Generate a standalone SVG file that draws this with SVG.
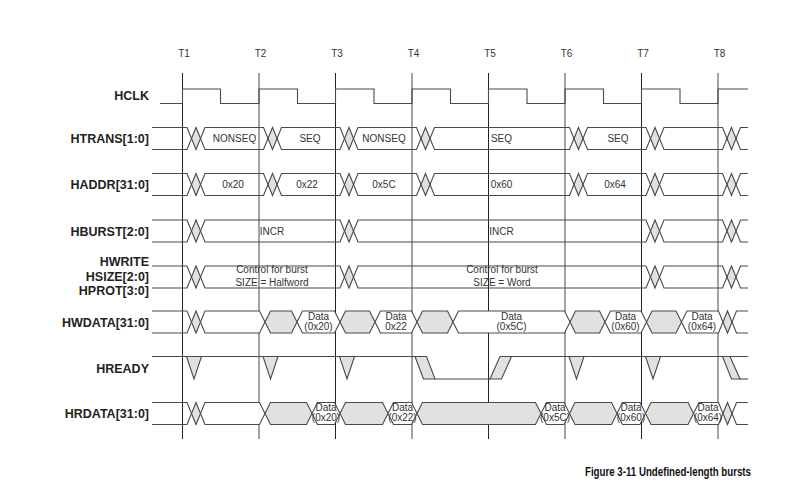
<svg xmlns="http://www.w3.org/2000/svg" xmlns:xlink="http://www.w3.org/1999/xlink" width="812" height="492" viewBox="0 0 812 492">
<style>
.ln{fill:none;stroke:#4a4a4a;stroke-width:1.1}
.w{fill:#fff;stroke:#4a4a4a;stroke-width:1.1}
.g{fill:#e1e1e1;stroke:#4a4a4a;stroke-width:1.1}
.gd{fill:#e1e1e1;stroke:none}
.edgeA{stroke:#222;stroke-width:1}
.edgeB{stroke:#8c8c8c;stroke-width:1.6}
.lbl{font-family:"Liberation Sans",Arial,sans-serif;font-weight:bold;font-size:12.5px;fill:#222;text-anchor:end}
.t{font-family:"Liberation Sans",Arial,sans-serif;font-size:10px;fill:#333;text-anchor:middle}
.cap{font-family:"Liberation Sans",Arial,sans-serif;font-weight:bold;font-size:12px;fill:#111;text-anchor:end}
</style>
<defs>
<polygon id="dia" points="-4.5,0 0,-11 4.5,0 0,11"/>
</defs>
<rect width="812" height="492" fill="#fff"/>

<g id="clock-edges">
<line class="edgeA" x1="182.5" y1="73" x2="182.5" y2="439"/>
<line class="edgeB" x1="259" y1="73" x2="259" y2="439"/>
<line class="edgeA" x1="335.5" y1="73" x2="335.5" y2="439"/>
<line class="edgeB" x1="412" y1="73" x2="412" y2="439"/>
<line class="edgeA" x1="488.5" y1="73" x2="488.5" y2="439"/>
<line class="edgeB" x1="565" y1="73" x2="565" y2="439"/>
<line class="edgeA" x1="641.5" y1="73" x2="641.5" y2="439"/>
<line class="edgeB" x1="718" y1="73" x2="718" y2="439"/>
<text class="t" x="184" y="57">T1</text>
<text class="t" x="260.5" y="57">T2</text>
<text class="t" x="337" y="57">T3</text>
<text class="t" x="413.5" y="57">T4</text>
<text class="t" x="490" y="57">T5</text>
<text class="t" x="566.5" y="57">T6</text>
<text class="t" x="643" y="57">T7</text>
<text class="t" x="719.5" y="57">T8</text>
</g>

<g id="hclk">
<text class="lbl" x="149" y="99.5">HCLK</text>
<path class="ln" d="M160,103.5 H182.5 V89 H220.5 V103.5 H259 V89 H297.5 V103.5 H335.5 V89 H374 V103.5 H412 V89 H450.5 V103.5 H488.5 V89 H527 V103.5 H565 V89 H603.5 V103.5 H641.5 V89 H680 V103.5 H718 V89 H748"/>
</g>

<g id="htrans">
<text class="lbl" x="149" y="143">HTRANS[1:0]</text>
<g class="gd">
<use xlink:href="#dia" href="#dia" x="196" y="138.5"/><use xlink:href="#dia" href="#dia" x="272.5" y="138.5"/><use xlink:href="#dia" href="#dia" x="349" y="138.5"/><use xlink:href="#dia" href="#dia" x="425.5" y="138.5"/><use xlink:href="#dia" href="#dia" x="578.5" y="138.5"/><use xlink:href="#dia" href="#dia" x="655" y="138.5"/><use xlink:href="#dia" href="#dia" x="731.5" y="138.5"/>
</g>
<path class="ln" d="M152,127.5 H187 L196,149.5 L205,127.5 H263.5 L272.5,149.5 L281.5,127.5 H340 L349,149.5 L358,127.5 H416.5 L425.5,149.5 L434.5,127.5 H569.5 L578.5,149.5 L587.5,127.5 H646 L655,149.5 L664,127.5 H722.5 L731.5,149.5 L740.5,127.5 H748"/>
<path class="ln" d="M152,149.5 H187 L196,127.5 L205,149.5 H263.5 L272.5,127.5 L281.5,149.5 H340 L349,127.5 L358,149.5 H416.5 L425.5,127.5 L434.5,149.5 H569.5 L578.5,127.5 L587.5,149.5 H646 L655,127.5 L664,149.5 H722.5 L731.5,127.5 L740.5,149.5 H748"/>
<text class="t" x="234.5" y="142">NONSEQ</text>
<text class="t" x="310" y="142">SEQ</text>
<text class="t" x="384" y="142">NONSEQ</text>
<text class="t" x="501.5" y="142">SEQ</text>
<text class="t" x="618" y="142">SEQ</text>
</g>

<g id="haddr">
<text class="lbl" x="149" y="189">HADDR[31:0]</text>
<g class="gd">
<use xlink:href="#dia" href="#dia" x="196" y="184.5"/><use xlink:href="#dia" href="#dia" x="272.5" y="184.5"/><use xlink:href="#dia" href="#dia" x="349" y="184.5"/><use xlink:href="#dia" href="#dia" x="425.5" y="184.5"/><use xlink:href="#dia" href="#dia" x="578.5" y="184.5"/><use xlink:href="#dia" href="#dia" x="655" y="184.5"/><use xlink:href="#dia" href="#dia" x="731.5" y="184.5"/>
</g>
<path class="ln" d="M152,173.5 H187 L196,195.5 L205,173.5 H263.5 L272.5,195.5 L281.5,173.5 H340 L349,195.5 L358,173.5 H416.5 L425.5,195.5 L434.5,173.5 H569.5 L578.5,195.5 L587.5,173.5 H646 L655,195.5 L664,173.5 H722.5 L731.5,195.5 L740.5,173.5 H748"/>
<path class="ln" d="M152,195.5 H187 L196,173.5 L205,195.5 H263.5 L272.5,173.5 L281.5,195.5 H340 L349,173.5 L358,195.5 H416.5 L425.5,173.5 L434.5,195.5 H569.5 L578.5,173.5 L587.5,195.5 H646 L655,173.5 L664,195.5 H722.5 L731.5,173.5 L740.5,195.5 H748"/>
<text class="t" x="233" y="188">0x20</text>
<text class="t" x="307" y="188">0x22</text>
<text class="t" x="384" y="188">0x5C</text>
<text class="t" x="501.5" y="188">0x60</text>
<text class="t" x="615" y="188">0x64</text>
</g>

<g id="hburst">
<text class="lbl" x="149" y="235.5">HBURST[2:0]</text>
<g class="gd">
<use xlink:href="#dia" href="#dia" x="196" y="231"/><use xlink:href="#dia" href="#dia" x="349" y="231"/><use xlink:href="#dia" href="#dia" x="655" y="231"/><use xlink:href="#dia" href="#dia" x="731.5" y="231"/>
</g>
<path class="ln" d="M152,220 H187 L196,242 L205,220 H340 L349,242 L358,220 H646 L655,242 L664,220 H722.5 L731.5,242 L740.5,220 H748"/>
<path class="ln" d="M152,242 H187 L196,220 L205,242 H340 L349,220 L358,242 H646 L655,220 L664,242 H722.5 L731.5,220 L740.5,242 H748"/>
<text class="t" x="272" y="234.5">INCR</text>
<text class="t" x="501.5" y="234.5">INCR</text>
</g>

<g id="control">
<text class="lbl" x="149" y="266">HWRITE</text>
<text class="lbl" x="149" y="280.5">HSIZE[2:0]</text>
<text class="lbl" x="149" y="295">HPROT[3:0]</text>
<g class="gd">
<use xlink:href="#dia" href="#dia" x="196" y="277"/><use xlink:href="#dia" href="#dia" x="349" y="277"/><use xlink:href="#dia" href="#dia" x="655" y="277"/><use xlink:href="#dia" href="#dia" x="731.5" y="277"/>
</g>
<path class="ln" d="M152,266 H187 L196,288 L205,266 H340 L349,288 L358,266 H646 L655,288 L664,266 H722.5 L731.5,288 L740.5,266 H748"/>
<path class="ln" d="M152,288 H187 L196,266 L205,288 H340 L349,266 L358,288 H646 L655,266 L664,288 H722.5 L731.5,266 L740.5,288 H748"/>
<text class="t" x="272" y="273">Control for burst</text>
<text class="t" x="272" y="285.5">SIZE = Halfword</text>
<text class="t" x="502" y="273">Control for burst</text>
<text class="t" x="502" y="285.5">SIZE = Word</text>
</g>

<g id="hwdata">
<text class="lbl" x="149" y="326.5">HWDATA[31:0]</text>
<path class="ln" d="M152,311 H187 L191.5,322 L187,333 H152"/>
<use class="g" xlink:href="#dia" href="#dia" x="196" y="322"/>
<polygon class="w" points="200.5,322 205,311 259.5,311 265,322 259.5,333 205,333"/>
<polygon class="g" points="265,322 270.5,311 291.5,311 297,322 291.5,333 270.5,333"/>
<polygon class="w" points="297,322 302.5,311 334.5,311 340,322 334.5,333 302.5,333"/>
<polygon class="g" points="340,322 345.5,311 369.5,311 375,322 369.5,333 345.5,333"/>
<polygon class="w" points="375,322 380.5,311 411.5,311 417,322 411.5,333 380.5,333"/>
<polygon class="g" points="417,322 422.5,311 447.5,311 453,322 447.5,333 422.5,333"/>
<polygon class="w" points="453,322 458.5,311 564.5,311 570,322 564.5,333 458.5,333"/>
<polygon class="g" points="570,322 575.5,311 599.5,311 605,322 599.5,333 575.5,333"/>
<polygon class="w" points="605,322 610.5,311 641,311 646.5,322 641,333 610.5,333"/>
<polygon class="g" points="646.5,322 652,311 676,311 681.5,322 676,333 652,333"/>
<polygon class="w" points="681.5,322 687,311 718.5,311 723,322 718.5,333 687,333"/>
<use class="g" xlink:href="#dia" href="#dia" x="727.5" y="322"/>
<path class="ln" d="M748,311 H736.5 L732,322 L736.5,333 H748"/>
<text class="t" x="318.5" y="319.5">Data</text>
<text class="t" x="318.5" y="329.5">(0x20)</text>
<text class="t" x="396" y="319.5">Data</text>
<text class="t" x="396" y="329.5">0x22</text>
<text class="t" x="511.5" y="319.5">Data</text>
<text class="t" x="511.5" y="329.5">(0x5C)</text>
<text class="t" x="625.5" y="319.5">Data</text>
<text class="t" x="625.5" y="329.5">(0x60)</text>
<text class="t" x="702" y="319.5">Data</text>
<text class="t" x="702" y="329.5">(0x64)</text>
</g>

<g id="hready">
<text class="lbl" x="149" y="372.5">HREADY</text>
<path class="ln" d="M152,356.5 H415"/>
<path class="ln" d="M511.5,356.5 H748"/>
<path class="ln" d="M435,379 H490"/>
<path class="ln" d="M740,379 H748"/>
<polygon class="g" points="186.5,356.5 201.5,356.5 194,379"/>
<polygon class="g" points="263,356.5 278,356.5 270.5,379"/>
<polygon class="g" points="339.5,356.5 354.5,356.5 347,379"/>
<polygon class="g" points="569,356.5 584,356.5 576.5,379"/>
<polygon class="g" points="645.5,356.5 660.5,356.5 653,379"/>
<polygon class="g" points="415,356.5 426.5,356.5 435,379 423.5,379"/>
<polygon class="g" points="490,379 501.5,379 511.5,356.5 500,356.5"/>
<polygon class="g" points="722.5,356.5 730,356.5 740,379 731.5,379"/>
</g>

<g id="hrdata">
<text class="lbl" x="149" y="418">HRDATA[31:0]</text>
<path class="ln" d="M152,402.5 H187 L191.5,413.5 L187,424.5 H152"/>
<use class="g" xlink:href="#dia" href="#dia" x="196" y="413.5"/>
<polygon class="w" points="200.5,413.5 205,402.5 259.5,402.5 265,413.5 259.5,424.5 205,424.5"/>
<polygon class="g" points="265,413.5 270.5,402.5 306.5,402.5 312,413.5 306.5,424.5 270.5,424.5"/>
<polygon class="w" points="312,413.5 317.5,402.5 334.5,402.5 340,413.5 334.5,424.5 317.5,424.5"/>
<polygon class="g" points="340,413.5 345.5,402.5 382.5,402.5 388,413.5 382.5,424.5 345.5,424.5"/>
<polygon class="w" points="388,413.5 393.5,402.5 411.5,402.5 417,413.5 411.5,424.5 393.5,424.5"/>
<polygon class="g" points="417,413.5 422.5,402.5 535.5,402.5 541,413.5 535.5,424.5 422.5,424.5"/>
<polygon class="w" points="541,413.5 546.5,402.5 564,402.5 569.5,413.5 564,424.5 546.5,424.5"/>
<polygon class="g" points="569.5,413.5 575,402.5 611.5,402.5 617,413.5 611.5,424.5 575,424.5"/>
<polygon class="w" points="617,413.5 622.5,402.5 640,402.5 645.5,413.5 640,424.5 622.5,424.5"/>
<polygon class="g" points="645.5,413.5 651,402.5 688,402.5 693.5,413.5 688,424.5 651,424.5"/>
<polygon class="w" points="693.5,413.5 699,402.5 718.5,402.5 723,413.5 718.5,424.5 699,424.5"/>
<use class="g" xlink:href="#dia" href="#dia" x="727.5" y="413.5"/>
<path class="ln" d="M748,402.5 H736.5 L732,413.5 L736.5,424.5 H748"/>
<text class="t" x="326" y="410.5">Data</text>
<text class="t" x="326" y="421">(0x20)</text>
<text class="t" x="402.5" y="410.5">Data</text>
<text class="t" x="402.5" y="421">(0x22)</text>
<text class="t" x="555" y="410.5">Data</text>
<text class="t" x="555" y="421">(0x5C)</text>
<text class="t" x="631" y="410.5">Data</text>
<text class="t" x="631" y="421">(0x60)</text>
<text class="t" x="708" y="410.5">Data</text>
<text class="t" x="708" y="421">(0x64)</text>
</g>

<text class="cap" x="751" y="476" textLength="166" lengthAdjust="spacingAndGlyphs">Figure 3-11 Undefined-length bursts</text>
</svg>
